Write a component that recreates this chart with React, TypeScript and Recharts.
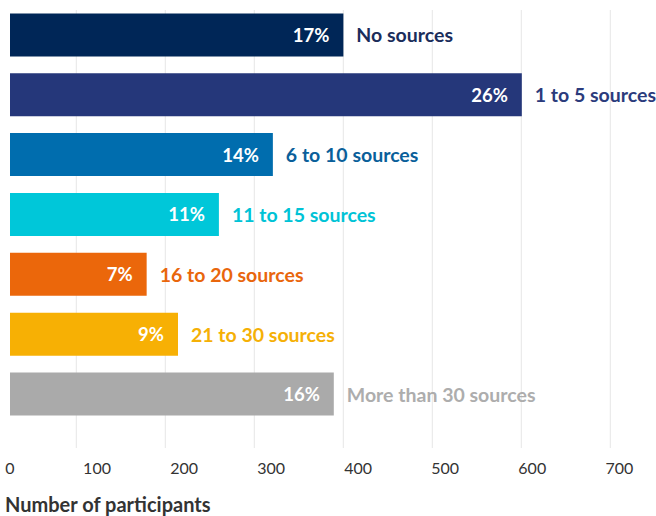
import React from 'react';
import { BarChart, Bar, XAxis, YAxis, CartesianGrid, Cell, LabelList, Label } from 'recharts';

const categories = [
  'No sources',
  '1 to 5 sources',
  '6 to 10 sources',
  '11 to 15 sources',
  '16 to 20 sources',
  '21 to 30 sources',
  'More than 30 sources',
];
const participants = [383, 588, 302, 240, 157, 193, 372];
const shares = ['17%', '26%', '14%', '11%', '7%', '9%', '16%'];

const barColors = ['#002657', '#25377a', '#006dae', '#00c7d9', '#eb670b', '#f7b004', '#aaaaaa'];
const textColors = ['#1b2d5b', '#2b3b7c', '#0a5f9a', '#00c3d6', '#e9660c', '#f5b006', '#adadad'];

const xTicks = [0, 100, 200, 300, 400, 500, 600, 700];
// the source draws its gridlines slightly offset from the tick labels
const gridTicks = [100, 200, 300, 400, 500, 600, 700];
const GRID_DOMAIN: [number, number] = [25.5, 710.1];

const data = categories.map((name, i) => ({ name, value: participants[i], share: shares[i] }));

const FONT = 'Lato, "Open Sans", sans-serif';

function BarLabels(props: any) {
  const { x, y, width, height, value } = props;
  const i = categories.indexOf(value);
  const cy = y + height / 2;
  const end = x + width;
  return (
    <g>
      <text
        x={end - 14}
        y={cy}
        textAnchor="end"
        dominantBaseline="central"
        fill="#ffffff"
        fontFamily={FONT}
        fontWeight={700}
        fontSize={18.5}
      >
        {shares[i]}
      </text>
      <text
        x={end + 13}
        y={cy}
        textAnchor="start"
        dominantBaseline="central"
        fill={textColors[i]}
        fontFamily={FONT}
        fontWeight={700}
        fontSize={19.5}
      >
        {value}
      </text>
    </g>
  );
}

export default function App() {
  return (
    <div style={{ position: 'absolute', left: 0, top: 0 }}>
      <BarChart
        width={656}
        height={516}
        data={data}
        layout="vertical"
        margin={{ top: 5.4, right: 36.7, bottom: 9.3, left: 10 }}
      >
        <CartesianGrid
          xAxisId="grid"
          horizontal={false}
          syncWithTicks
          stroke="#e6e6e6"
          y={10}
          height={438}
        />
        <XAxis
          xAxisId="grid"
          type="number"
          hide
          domain={GRID_DOMAIN}
          ticks={gridTicks}
          allowDataOverflow
        />
        <XAxis
          type="number"
          domain={[0, 700]}
          ticks={xTicks}
          axisLine={false}
          tickLine={false}
          tickSize={6}
          tickMargin={9}
          height={58.7}
          tick={{ fill: '#333333', fontSize: 16, fontFamily: FONT }}
          interval={0}
        >
          <Label
            value="Number of participants"
            position="insideBottomLeft"
            offset={-5}
            fill="#333333"
            fontSize={20}
            fontWeight={700}
            fontFamily={FONT}
          />
        </XAxis>
        <YAxis
          type="category"
          dataKey="name"
          width={0}
          tick={false}
          tickLine={false}
          axisLine={{ stroke: '#e6e6e6' }}
          padding={{ top: 0, bottom: 23.6 }}
        />
        <Bar dataKey="value" barSize={43} isAnimationActive={false}>
          {data.map((d, i) => (
            <Cell key={d.name} fill={barColors[i]} />
          ))}
          <LabelList dataKey="name" content={BarLabels} />
        </Bar>
      </BarChart>
    </div>
  );
}
